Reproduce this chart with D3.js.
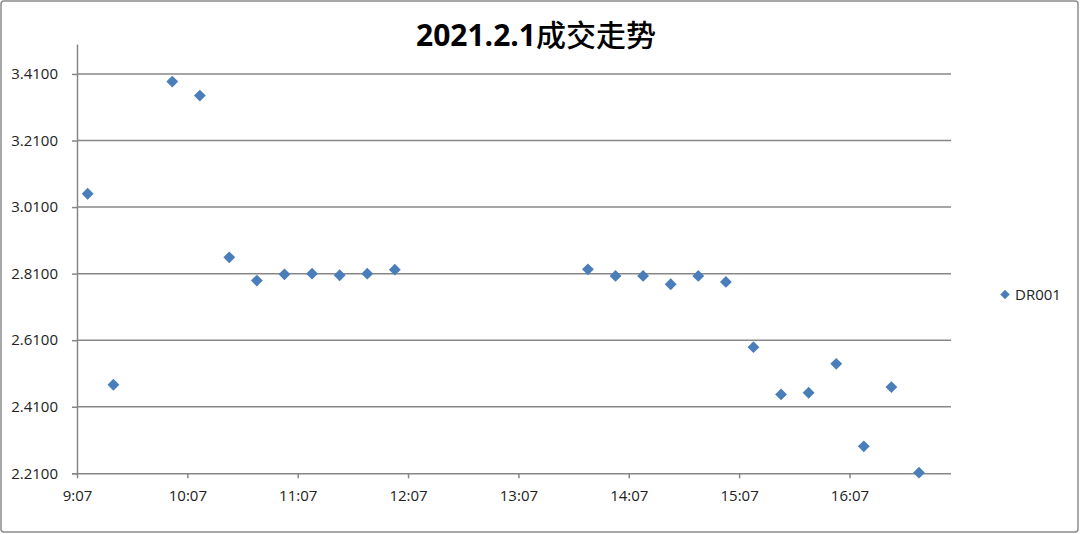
<!DOCTYPE html>
<html>
<head>
<meta charset="utf-8">
<script src="https://cdn.jsdelivr.net/npm/d3@7"></script>
<style>
  html, body { margin: 0; padding: 0; background: #fff; }
  svg { display: block; }
</style>
</head>
<body>
<svg id="chart" width="1080" height="534"></svg>
<script>
// ---- data ----
const times = ["9:13","9:27","9:59","10:14","10:30","10:45","11:00","11:15","11:30","11:45","12:00",
               "13:45","14:00","14:15","14:30","14:45","15:00","15:15","15:30","15:45","16:00","16:15","16:30","16:45"];
const values = [3.05, 2.476, 3.387, 3.345, 2.859, 2.789, 2.808, 2.81, 2.805, 2.81, 2.822,
                2.823, 2.803, 2.803, 2.778, 2.803, 2.785, 2.589, 2.447, 2.452, 2.539, 2.291, 2.469, 2.212];
const seriesName = "DR001";
const titleNum = "2021.2.1";
const titleCjk = "成交走势";
const xDomainDays = [0.38, 0.71];          // Excel axis min/max (fraction of a day)
const xTickCount = 8;                        // 9:07 ... 16:07, one per hour
const yDomain = [2.21, 3.50];
const yTicks = [2.21, 2.41, 2.61, 2.81, 3.01, 3.21, 3.41];

// ---- helpers ----
const toMin = s => { const [h, m] = s.split(":").map(Number); return h * 60 + m; };
const fmtTime = m => { const r = Math.round(m); return Math.floor(r / 60) + ":" + String(r % 60).padStart(2, "0"); };

const svg = d3.select("#chart");
const font = "'Open Sans', 'Noto Sans', sans-serif";
const gridColor = "#878787";
const markColor = "#4a7ebb";

const L = 77, R = 951, T = 44, B = 473.3;
const x = d3.scaleLinear().domain(xDomainDays.map(d => d * 1440)).range([L, R]);
const y = d3.scaleLinear().domain(yDomain).range([B, T]);
const xTicks = d3.range(xTickCount).map(k => xDomainDays[0] * 1440 + 60 * k);

// outer border
svg.append("rect").attr("x", 1).attr("y", 1).attr("width", 1077).attr("height", 531)
  .attr("rx", 3).attr("fill", "#fff").attr("stroke", "#8c8c8c").attr("stroke-width", 1.5);

// title
const title = svg.append("text").attr("x", 536).attr("y", 46).attr("text-anchor", "middle")
  .style("font-family", font).style("font-size", "30px").attr("fill", "#000");
title.append("tspan").attr("font-weight", "bold").text(titleNum);
title.append("tspan").style("font-family", "'Noto Sans CJK SC', sans-serif").attr("font-weight", 500).text(titleCjk);

// gridlines
svg.append("g").selectAll("line").data(yTicks.slice(1)).join("line")
  .attr("x1", L).attr("x2", R).attr("y1", d => y(d)).attr("y2", d => y(d))
  .attr("stroke", gridColor).attr("stroke-width", 1.5);

// y axis
const yAxis = svg.append("g").attr("transform", `translate(${L},0)`)
  .call(d3.axisLeft(y).tickValues(yTicks).tickFormat(d3.format(".4f")).tickSize(5).tickSizeOuter(0).tickPadding(14));
// x axis
const xAxis = svg.append("g").attr("transform", `translate(0,${B})`)
  .call(d3.axisBottom(x).tickValues(xTicks).tickFormat(fmtTime).tickSize(5).tickSizeOuter(0).tickPadding(12));

[yAxis, xAxis].forEach(g => {
  g.select(".domain").attr("stroke", gridColor).attr("stroke-width", 1.5);
  g.selectAll(".tick line").attr("stroke", gridColor).attr("stroke-width", 1.5);
  g.selectAll(".tick text").attr("fill", "#222").style("font-family", font).style("font-size", "15px");
});
xAxis.select(".domain").attr("d", `M${L - 5},0.5H${R}`);

// points
const data = times.map((t, i) => ({ t: toMin(t), v: values[i] }));
svg.append("g").selectAll("path").data(data).join("path")
  .attr("d", d3.symbol().type(d3.symbolSquare).size(70)())
  .attr("transform", d => `translate(${x(d.t)},${y(d.v)}) rotate(45)`)
  .attr("fill", markColor);

// legend
svg.append("path").attr("d", d3.symbol().type(d3.symbolSquare).size(45)())
  .attr("transform", "translate(1005,294.5) rotate(45)").attr("fill", markColor);
svg.append("text").attr("x", 1015).attr("y", 300).text(seriesName)
  .style("font-family", font).style("font-size", "15px").attr("fill", "#222");
</script>
</body>
</html>
